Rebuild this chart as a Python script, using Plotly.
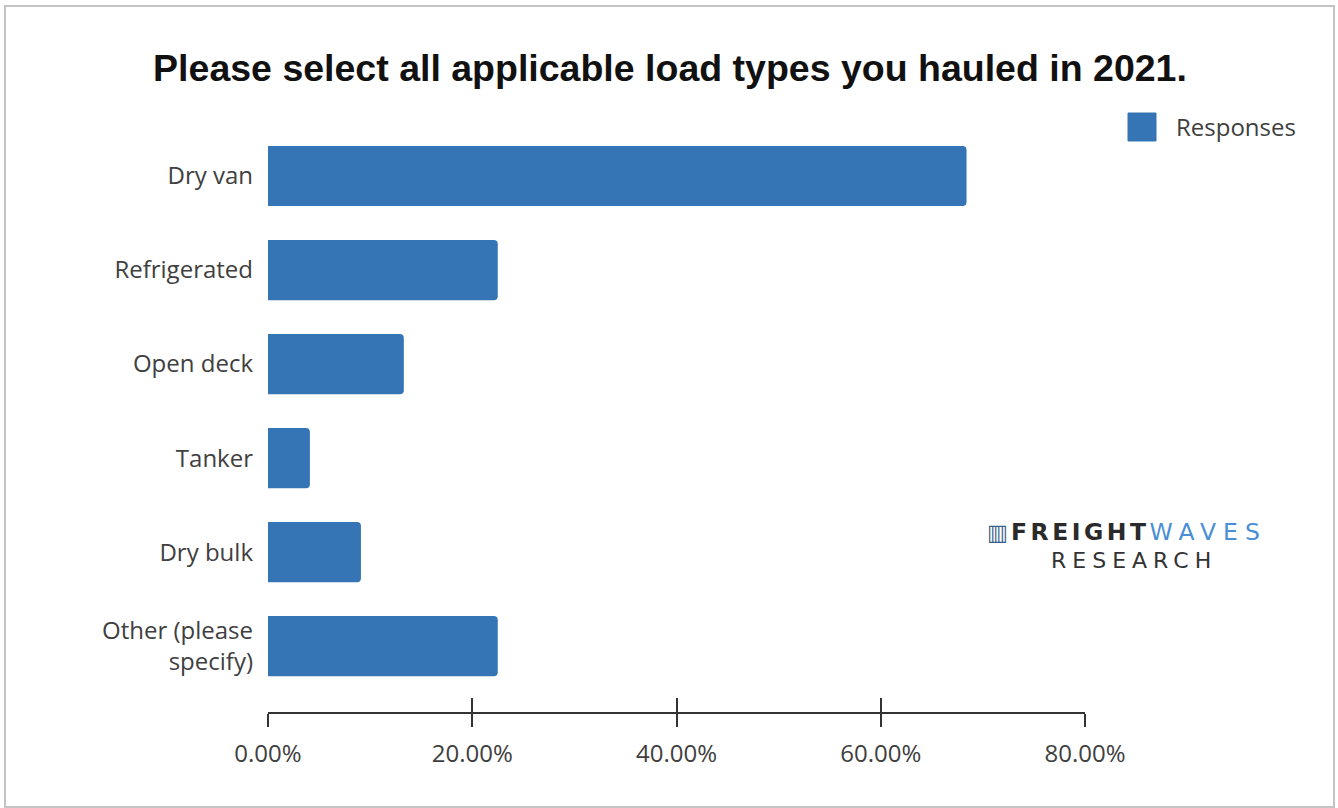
import plotly.graph_objects as go

# Survey results: share of respondents hauling each load type
categories = ["Dry van", "Refrigerated", "Open deck", "Tanker", "Dry bulk",
              "Other (please<br>specify)"]
responses = [68.4, 22.5, 13.3, 4.1, 9.1, 22.5]
x_ticks = [0, 20, 40, 60, 80]
x_tick_labels = ["0.00%", "20.00%", "40.00%", "60.00%", "80.00%"]

BAR_BLUE = "#3575B5"
AXIS_DARK = "#333333"
LABEL_FONT = "Open Sans"
LABEL_SIZE = 24

fig = go.Figure()
fig.add_trace(go.Bar(
    y=categories,
    x=responses,
    orientation="h",
    name="Responses",
    marker=dict(color=BAR_BLUE, line=dict(width=0)),
    width=0.64,
    showlegend=False,
))
# invisible companion trace so the tick overlay axis is drawn
fig.add_trace(go.Scatter(
    x=[None], y=[None], xaxis="x2", yaxis="y",
    showlegend=False, hoverinfo="skip",
))

fig.update_layout(
    width=1338,
    height=808,
    margin=dict(l=268, r=253, t=129, b=96),
    paper_bgcolor="white",
    plot_bgcolor="white",
    barcornerradius=4,
    title=dict(
        text="<b>Please select all applicable load types you hauled in 2021.</b>",
        font=dict(family="Liberation Sans, Arial", size=37.5, color="#111111"),
        x=670 / 1338, xanchor="center", xref="container",
        y=0.916, yanchor="middle",
    ),
    xaxis=dict(
        range=[0, 80],
        tickvals=x_ticks,
        ticktext=x_tick_labels,
        ticks="outside",
        ticklen=13,
        tickwidth=2,
        tickcolor=AXIS_DARK,
        showline=True,
        linecolor=AXIS_DARK,
        linewidth=2,
        showgrid=False,
        zeroline=False,
        tickfont=dict(family=LABEL_FONT, size=LABEL_SIZE, color="#404040"),
        ticklabelstandoff=6,
        fixedrange=True,
    ),
    xaxis2=dict(
        range=[0, 80],
        overlaying="x",
        anchor="y",
        side="bottom",
        tickvals=x_ticks,
        ticks="inside",
        ticklen=14,
        tickwidth=2,
        tickcolor=AXIS_DARK,
        showticklabels=False,
        showline=False,
        showgrid=False,
        zeroline=False,
    ),
    yaxis=dict(
        range=[5.7, -0.5],
        showline=False,
        showgrid=False,
        zeroline=False,
        ticks="",
        ticklabelstandoff=14,
        tickfont=dict(family=LABEL_FONT, size=LABEL_SIZE, color="#404040"),
        fixedrange=True,
    ),
)

# outer frame around the chart
fig.add_shape(type="rect", xref="paper", yref="paper",
              x0=(5 - 268) / 817, x1=(1334 - 268) / 817,
              y0=(712 - 807) / 583, y1=(712 - 6) / 583,
              line=dict(color="#c4c4c4", width=2), fillcolor="rgba(0,0,0,0)",
              layer="below")

# legend swatch and label
fig.add_shape(type="rect", xref="paper", yref="paper",
              x0=(1128 - 268) / 817, x1=(1156 - 268) / 817,
              y0=(712 - 141) / 583, y1=(712 - 113) / 583,
              line=dict(color=BAR_BLUE, width=1), fillcolor=BAR_BLUE)
fig.add_annotation(xref="paper", yref="paper",
                   x=(1174 - 268) / 817, y=(712 - 127) / 583,
                   xanchor="left", yanchor="middle", showarrow=False,
                   text="Responses",
                   font=dict(family=LABEL_FONT, size=LABEL_SIZE, color="#404040"))

# FreightWaves Research wordmark
fig.add_annotation(xref="paper", yref="paper",
                   x=(997 - 268) / 817, y=(712 - 532) / 583,
                   xanchor="center", yanchor="middle", showarrow=False,
                   text="▥",
                   font=dict(family="DejaVu Sans", size=22, color="#3a5f8a"))
fig.add_annotation(xref="paper", yref="paper",
                   x=(1009 - 268) / 817, y=(712 - 532) / 583,
                   xanchor="left", yanchor="middle", showarrow=False,
                   text="<b><span style='letter-spacing:3.5px'>FREIGHT</span></b>"
                        "<span style='color:#4a8fd6;letter-spacing:7px'>WAVES</span>",
                   font=dict(family="DejaVu Sans", size=23.5, color="#2a2a2a"))
fig.add_annotation(xref="paper", yref="paper",
                   x=(1134 - 268) / 817, y=(712 - 560) / 583,
                   xanchor="center", yanchor="middle", showarrow=False,
                   text="<span style='letter-spacing:6px'>RESEARCH</span>",
                   font=dict(family="DejaVu Sans", size=22, color="#333333"))

fig.write_html("out.html")
